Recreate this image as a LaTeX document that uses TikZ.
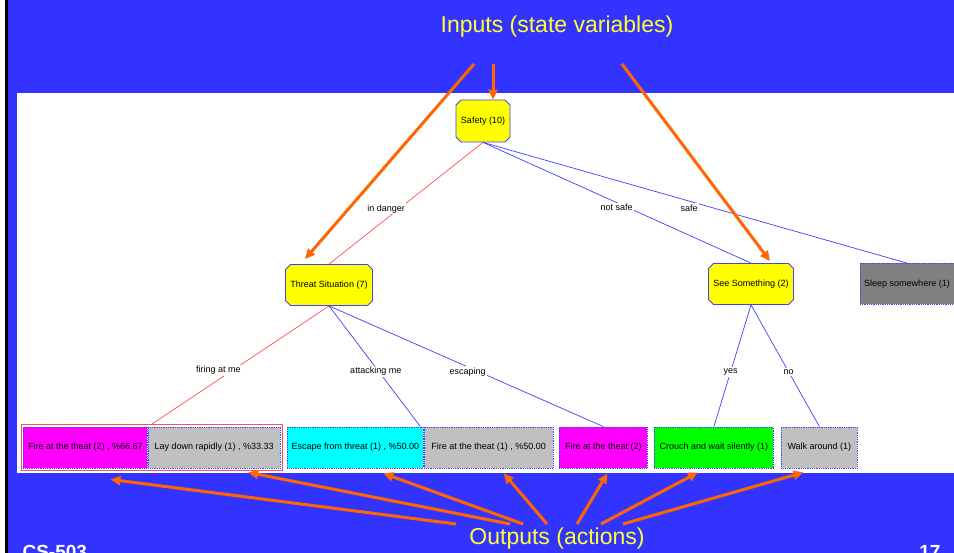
\documentclass[tikz,border=0pt]{standalone}
\usepackage{fontspec}
\setmainfont{Liberation Sans}
\usetikzlibrary{shapes.misc,arrows.meta,fit}

\definecolor{slideblue}{HTML}{3333FF}
\definecolor{edgeblue}{HTML}{4040FF}
\definecolor{edgered}{HTML}{FF5050}
\definecolor{calloutorange}{HTML}{FF6600}
\definecolor{leafgray}{HTML}{C0C0C0}
\definecolor{sleepgray}{HTML}{808080}
\definecolor{titleyellow}{HTML}{FFFF33}
\definecolor{nodeyellow}{HTML}{FFFF00}
\definecolor{leafmagenta}{HTML}{FF00FF}
\definecolor{leafcyan}{HTML}{00FFFF}
\definecolor{leafgreen}{HTML}{00FF00}

\tikzset{
  smalltext/.style={font=\fontsize{9}{11}\selectfont},
  decision/.style={chamfered rectangle, chamfered rectangle xsep=2.5pt, chamfered rectangle ysep=2.5pt,
    draw=edgeblue, fill=nodeyellow, smalltext, inner sep=0pt, line width=0.8pt},
  leaf/.style={rectangle, draw=edgeblue, densely dotted, line width=0.8pt, smalltext,
    minimum height=41pt, inner sep=0pt, anchor=west},
  lbl/.style={fill=white, inner sep=1.5pt, smalltext},
  blueedge/.style={draw=edgeblue, line width=0.7pt},
  rededge/.style={draw=edgered, line width=0.7pt},
  callout/.style={draw=calloutorange, line width=3pt, -{Triangle[length=10pt,width=9pt]}},
  bigtitle/.style={text=titleyellow, font=\fontsize{23}{26}\selectfont},
}

\begin{document}
\begin{tikzpicture}[x=1pt, y=-1pt]
    \useasboundingbox (0,0) rectangle (954,553);

    % slide background
    \fill[white] (0,0) rectangle (954,553);
    \fill[black] (5,0) rectangle (8,553);
    \fill[slideblue] (8,0) rectangle (954,553);
    \fill[white] (17,93) rectangle (954,473);

    % decision nodes
    \node[decision, minimum width=54pt, minimum height=42pt] (safety) at (483,121) {Safety (10)};
    \node[decision, minimum width=87pt, minimum height=41pt] (threat) at (329,285) {Threat Situation (7)};
    \node[decision, minimum width=85pt, minimum height=41pt] (see) at (751,284) {See Something (2)};
    \node[leaf, anchor=center, fill=sleepgray, minimum width=94pt] (sleep) at (907,284) {Sleep somewhere (1)};

    % leaves
    \node[leaf, fill=leafmagenta, minimum width=124pt] (fireA) at (23,447.5) {Fire at the theat (2) , \%66.67};
    \node[leaf, fill=leafgray, minimum width=132pt] (layA) at (fireA.east) {Lay down rapidly (1) , \%33.33};
    \node[leaf, fill=leafcyan, minimum width=136pt] (escB) at (287,447.5) {Escape from threat (1) , \%50.00};
    \node[leaf, fill=leafgray, minimum width=129pt] (fireB) at (escB.east) {Fire at the theat (1) , \%50.00};
    \node[leaf, fill=leafmagenta, minimum width=88pt] (fireC) at (559,447.5) {Fire at the theat (2)};
    \node[leaf, fill=leafgreen, minimum width=119pt] (crouch) at (654,447.5) {Crouch and wait silently (1)};
    \node[leaf, fill=leafgray, minimum width=76pt] (walk) at (781,447.5) {Walk around (1)};

    \node[draw=edgered, line width=0.8pt, fit=(fireA)(layA), inner sep=2pt] (grpA) {};
    \node[fit=(escB)(fireB), inner sep=0pt] (grpB) {};

    % tree edges
    \draw[rededge] (safety.south) -- node[lbl, pos=0.545, xshift=-13pt] {in danger} (threat.north);
    \draw[blueedge] (safety.south) -- node[lbl, pos=0.54, xshift=-11pt] {not safe} (see.north);
    \draw[blueedge] (safety.south) -- node[lbl, pos=0.486, yshift=-7pt] {safe} (sleep.north);

    \draw[rededge] (threat.south) -- node[lbl, pos=0.545, xshift=-14pt] {firing at me} (grpA.north);
    \draw[blueedge] (threat.south) -- node[lbl, pos=0.545, xshift=-3pt] {attacking me} (grpB.north);
    \draw[blueedge] (threat.south) -- node[lbl, pos=0.545, xshift=-11pt] {escaping} (fireC.north);

    \draw[blueedge] (see.south) -- node[lbl, pos=0.55] {yes} (crouch.north);
    \draw[blueedge] (see.south) -- node[lbl, pos=0.55] {no} (walk.north);

    % callouts
    \node[bigtitle] (inputs) at (557,27) {Inputs (state variables)};
    \node[bigtitle] (outputs) at (557,539) {Outputs (actions)};

    \foreach \sx/\target/\dx/\dy in {474/threat/-24/5, 493/safety/10/0, 622/see/19/2}
        \draw[callout] (\sx,64) -- ([xshift=\dx pt, yshift=\dy pt]\target.north);
    \foreach \sx/\target/\dx/\dy in {456/fireA/25/11, 510/layA/34/4, 523/escB/28/5, 547/fireB/15/5,
                                    577/fireC/4/5, 601/crouch/-16/4, 623/walk/-16/4}
        \draw[callout] (\sx,524) -- ([xshift=\dx pt, yshift=-\dy pt]\target.south);

    % footer
    \node[anchor=base west, text=white, font=\bfseries\fontsize{19}{22}\selectfont] (course) at (19,558) {CS-503};
    \node[anchor=base east, text=white, font=\bfseries\fontsize{19}{22}\selectfont] (page) at (944,558) {17};
\end{tikzpicture}
\end{document}
